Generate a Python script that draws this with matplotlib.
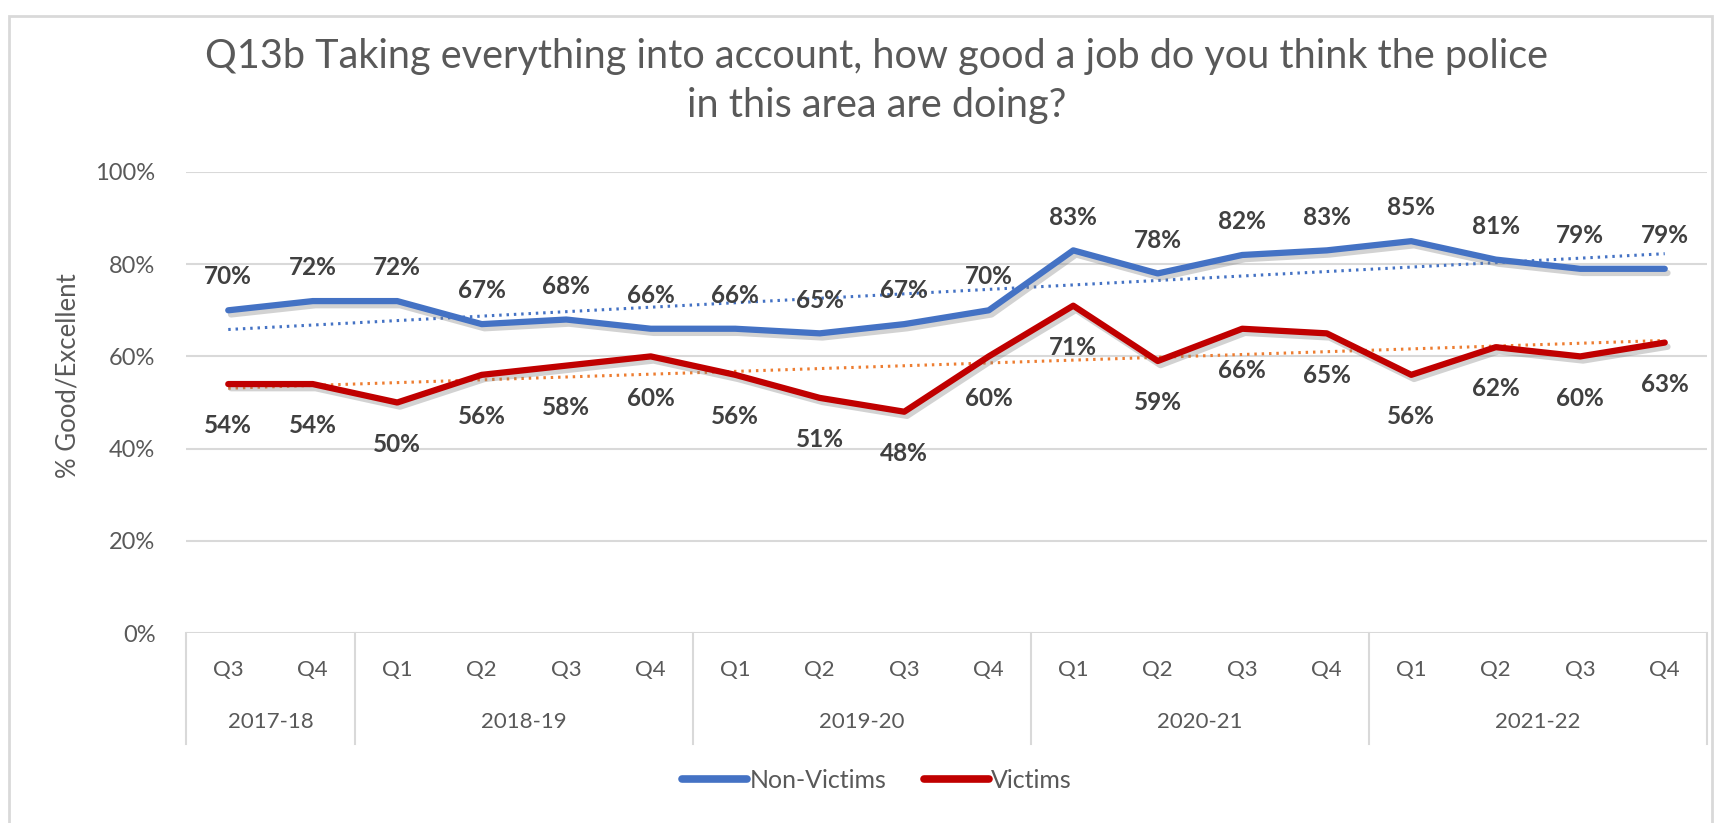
import matplotlib
matplotlib.use('Agg')
import matplotlib.pyplot as plt
import matplotlib.patheffects as pe
import numpy as np

plt.rcParams['font.family'] = ['Lato', 'DejaVu Sans']

# data
quarters = ['Q3', 'Q4', 'Q1', 'Q2', 'Q3', 'Q4', 'Q1', 'Q2', 'Q3', 'Q4',
            'Q1', 'Q2', 'Q3', 'Q4', 'Q1', 'Q2', 'Q3', 'Q4']
years = ['2017-18', '2018-19', '2019-20', '2020-21', '2021-22']
year_counts = [2, 4, 4, 4, 4]
non_victims = [70, 72, 72, 67, 68, 66, 66, 65, 67, 70, 83, 78, 82, 83, 85, 81, 79, 79]
victims = [54, 54, 50, 56, 58, 60, 56, 51, 48, 60, 71, 59, 66, 65, 56, 62, 60, 63]

title = ("Q13b Taking everything into account, how good a job do you think the police\n"
         "in this area are doing?")

BLUE = '#4472C4'
RED = '#C00000'
ORANGE = '#ED7D31'
GRID = '#D9D9D9'
TXT = '#595959'
LBL = '#404040'

fig = plt.figure(figsize=(17.16, 8.23), dpi=100)
ax = fig.add_axes([186 / 1716, 1 - 633 / 823, (1707 - 186) / 1716, (633 - 172) / 823])

x = np.arange(len(quarters))
shadow = [pe.SimpleLineShadow(offset=(2, -3), shadow_color='#808080', alpha=0.35), pe.Normal()]

ax.plot(x, non_victims, color=BLUE, lw=4.5, solid_capstyle='round', label='Non-Victims',
        path_effects=shadow, zorder=4)
ax.plot(x, victims, color=RED, lw=4.5, solid_capstyle='round', label='Victims',
        path_effects=shadow, zorder=4)

# linear trendlines like Excel's
for series, col in [(non_victims, BLUE), (victims, ORANGE)]:
    k, b = np.polyfit(x, series, 1)
    ax.plot(x, k * x + b, color=col, lw=2.2, ls=(0, (0.8, 1.6)), zorder=3)

for xi, v in zip(x, non_victims):
    ax.annotate(f'{v}%', (xi, v), xytext=(0, 24), textcoords='offset points',
                ha='center', va='center', fontsize=17.5, fontweight='bold', color=LBL)
for xi, v in zip(x, victims):
    ax.annotate(f'{v}%', (xi, v), xytext=(0, -30), textcoords='offset points',
                ha='center', va='center', fontsize=17.5, fontweight='bold', color=LBL)

ax.set_xlim(-0.5, len(quarters) - 0.5)
ax.set_ylim(0, 100)
ax.set_yticks(range(0, 101, 20))
ax.set_yticklabels([f'{t}%' for t in range(0, 101, 20)], fontsize=17, color=TXT)
ax.tick_params(axis='y', length=0, pad=22)
ax.grid(axis='y', color=GRID, lw=1.5)
ax.set_axisbelow(True)
for s in ax.spines.values():
    s.set_visible(False)
ax.axhline(0, color=GRID, lw=1.8, zorder=2)
ax.set_xticks([])
ax.set_ylabel('% Good/Excellent', fontsize=18.5, color=TXT, va='center')
ax.yaxis.set_label_coords(-0.0776, 0.558)

# two-level category axis
tr = ax.get_xaxis_transform()
for xi, q in zip(x, quarters):
    ax.text(xi, -0.08, q, transform=tr, ha='center', va='center', fontsize=16, color=TXT)
edges = np.concatenate([[0], np.cumsum(year_counts)]) - 0.5
for i, yr in enumerate(years):
    ax.text((edges[i] + edges[i + 1]) / 2, -0.193, yr, transform=tr,
            ha='center', va='center', fontsize=16, color=TXT)
for e in edges:
    ax.plot([e, e], [0, -0.241], transform=tr, color=GRID, lw=1.5, clip_on=False)

fig.text(0.511, 0.9016, title, ha='center', va='center', fontsize=28.5, color=TXT,
         linespacing=1.42)

leg = fig.legend(loc='center', bbox_to_anchor=(0.511, 0.052), ncol=2, frameon=False,
                 fontsize=18, handlelength=2.6, handletextpad=0.1, columnspacing=1.5)
for t in leg.get_texts():
    t.set_color(TXT)
for h in leg.get_lines():
    h.set_path_effects([])
    h.set_linewidth(5.5)

# chart border
fig.patches.append(plt.Rectangle((9 / 1716, -0.02), (1712 - 9) / 1716, 1.0, fill=False,
                                 edgecolor=GRID, lw=2, transform=fig.transFigure))

fig.savefig('out.png', dpi=100)
